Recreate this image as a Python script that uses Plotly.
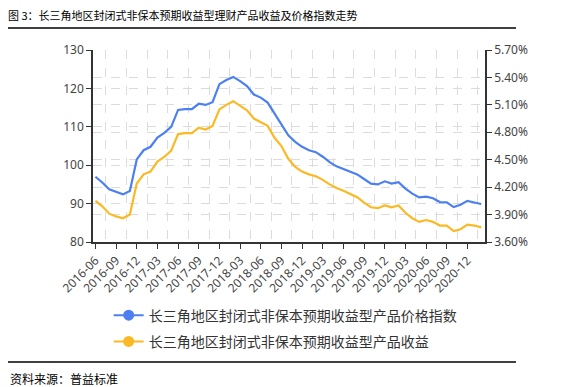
import plotly.graph_objects as go

# ---- data ----
months = [f"{y}-{m:02d}" for y in range(2016, 2022) for m in range(1, 13)]
months = months[months.index("2016-06"):months.index("2021-02") + 1]

price_index = [97.0, 95.5, 93.7, 93.0, 92.4, 93.3, 101.5, 103.9, 104.8, 107.2,
               108.4, 110.0, 114.4, 114.6, 114.6, 116.0, 115.7, 116.4, 121.1, 122.2,
               123.0, 121.9, 120.6, 118.4, 117.6, 116.3, 113.5, 110.4, 107.8, 106.1,
               104.8, 103.9, 103.4, 102.2, 100.8, 99.7, 99.0, 98.3, 97.6, 96.4,
               95.2, 95.0, 95.8, 95.2, 95.6, 93.9, 92.6, 91.6, 91.8, 91.4,
               90.4, 90.3, 89.1, 89.7, 90.7, 90.3, 89.9]
yield_pct = [4.05, 3.99, 3.91, 3.88, 3.86, 3.90, 4.24, 4.34, 4.37, 4.48,
             4.53, 4.60, 4.78, 4.79, 4.79, 4.85, 4.83, 4.87, 5.05, 5.10,
             5.14, 5.09, 5.04, 4.95, 4.91, 4.87, 4.74, 4.65, 4.51, 4.42,
             4.37, 4.34, 4.32, 4.28, 4.23, 4.19, 4.16, 4.125, 4.09, 4.03,
             3.98, 3.97, 4.00, 3.98, 4.00, 3.92, 3.86, 3.82, 3.84, 3.82,
             3.78, 3.78, 3.72, 3.74, 3.79, 3.78, 3.76]

name_index = "长三角地区封闭式非保本预期收益型产品价格指数"
name_yield = "长三角地区封闭式非保本预期收益型产品收益"
title_text = "图 3：长三角地区封闭式非保本预期收益型理财产品收益及价格指数走势"
source_text = "资料来源：普益标准"

BLUE = "#4C80F1"
YELLOW = "#FCB925"
GRID = "#DCDCDC"
AX = "#333333"
TICKFONT = dict(family="Noto Sans, Open Sans, sans-serif", size=12, color="#444444")

xs = list(range(len(months)))
tick_idx = xs[0:55:3]
grid_idx = [i + 1.5 for i in tick_idx]

fig = go.Figure()
fig.add_trace(go.Scatter(x=xs, y=price_index, mode="lines", name=name_index,
                         line=dict(color=BLUE, width=2.2), showlegend=False))
fig.add_trace(go.Scatter(x=xs, y=yield_pct, mode="lines", name=name_yield,
                         line=dict(color=YELLOW, width=2.2), yaxis="y2", showlegend=False))
# legend entries
fig.add_trace(go.Scatter(x=[None], y=[None], mode="lines+markers", name=name_index,
                         line=dict(color=BLUE, width=2), marker=dict(size=11, color=BLUE),
                         legendgroup="a"))
fig.add_trace(go.Scatter(x=[None], y=[None], mode="lines+markers", name=name_yield,
                         line=dict(color=YELLOW, width=2), marker=dict(size=11, color=YELLOW),
                         legendgroup="b"))

# page body has an 8px margin, so the figure is drawn 8px smaller and offset
W, H = 562, 379
fig.update_layout(
    width=W, height=H,
    margin=dict(l=85, r=85, t=42, b=145),
    paper_bgcolor="white", plot_bgcolor="white",
    title=dict(text=title_text, x=0.0, xanchor="left", y=1 - 8 / H, yanchor="middle",
               font=dict(family="Noto Sans CJK SC", size=11, color="#000000")),
    xaxis=dict(
        range=[-0.35, 56.55], showgrid=False, zeroline=False,
        tickmode="array", tickvals=tick_idx, ticktext=[months[i] for i in tick_idx],
        tickangle=-45, tickfont=TICKFONT, ticks="outside", ticklen=5, tickcolor=AX,
        showline=True, linecolor=AX, linewidth=1.5,
        minor=dict(tickmode="array", tickvals=grid_idx, showgrid=True, gridcolor=GRID,
                   griddash="dash", gridwidth=1, ticks=""),
    ),
    yaxis=dict(
        range=[80, 130], dtick=10, tick0=80, showgrid=True, gridcolor=GRID, griddash="dash",
        zeroline=False, showline=True, linecolor=AX, linewidth=1.5,
        ticks="outside", ticklen=5, tickcolor=AX, tickfont=TICKFONT,
    ),
    yaxis2=dict(
        range=[3.6, 5.7], dtick=0.3, tick0=3.6, tickformat=".2f", ticksuffix="%",
        overlaying="y", side="right", showgrid=True, gridcolor=GRID, griddash="dash",
        zeroline=False, showline=True, linecolor=AX, linewidth=1.5,
        ticks="outside", ticklen=5, tickcolor=AX, tickfont=TICKFONT,
    ),
    legend=dict(x=0.04, y=-0.30, xanchor="left", yanchor="top", orientation="v",
                tracegroupgap=5, bgcolor="rgba(0,0,0,0)",
                font=dict(family="Noto Sans CJK SC", size=14, color="#333333")),
    shapes=[
        dict(type="line", xref="paper", yref="paper", x0=-85 / 392, x1=423 / 392,
             y0=(242 - 28) / 192, y1=(242 - 28) / 192, line=dict(color="#000000", width=1.5)),
        dict(type="line", xref="paper", yref="paper", x0=-85 / 392, x1=423 / 392,
             y0=(242 - 362) / 192, y1=(242 - 362) / 192, line=dict(color="#000000", width=1.5)),
    ],
    annotations=[
        dict(text=source_text, xref="paper", yref="paper", x=-85 / 392, y=(242 - 378) / 192,
             xanchor="left", yanchor="middle", showarrow=False,
             font=dict(family="Noto Sans CJK SC", size=12, color="#000000")),
    ],
)

fig.write_html("out.html")
